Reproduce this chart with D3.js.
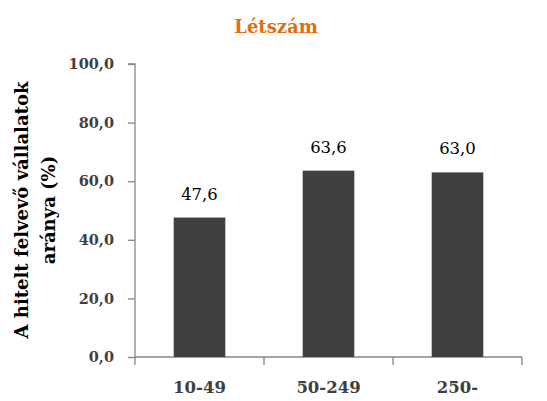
<!DOCTYPE html>
<html><head><meta charset="utf-8">
<script src="https://cdn.jsdelivr.net/npm/d3@7"></script>
<style>body{margin:0;background:#fff}svg{display:block}</style>
</head><body>
<svg id="c" width="547" height="401"></svg>
<script>
const categories = ["10-49", "50-249", "250-"];
const values = [47.6, 63.6, 63.0];
const yTicks = [0, 20, 40, 60, 80, 100];
const title = "Létszám";
const yTitle = ["A hitelt felvevő vállalatok", "aránya (%)"];

const svg = d3.select("#c");
const m = {left: 135, right: 25, top: 64, bottom: 44};
const W = 547, H = 401;
const x = d3.scaleBand().domain(categories).range([m.left, W - m.right]).paddingInner(0.6).paddingOuter(0.3);
const y = d3.scaleLinear().domain([0, 100]).range([H - m.bottom, m.top]);
const fmt = v => d3.format(".1f")(v).replace(".", ",");
const serif = "'DejaVu Serif', serif";

svg.append("text").attr("x", 276).attr("y", 33).attr("text-anchor", "middle")
  .attr("font-family", serif).attr("font-weight", "bold").attr("font-size", 18)
  .attr("fill", "#E46C0A").text(title);

// y axis
const ya = svg.append("g").attr("transform", `translate(${m.left},0)`)
  .call(d3.axisLeft(y).tickValues(yTicks).tickFormat(fmt).tickSize(7).tickPadding(14));
ya.select(".domain").attr("stroke", "#868686").attr("stroke-width", 1.3).attr("d", `M-7,${y(100)}H0V${y(0)}`);
ya.selectAll(".tick line").attr("stroke", "#868686").attr("stroke-width", 1.3);
ya.selectAll(".tick text").attr("font-family", serif).attr("font-weight", "bold")
  .attr("font-size", 14.5).attr("fill", "#404040");

// x axis
const xa = svg.append("g").attr("transform", `translate(0,${y(0)})`)
  .call(d3.axisBottom(x).tickSize(0).tickPadding(24));
xa.select(".domain").attr("stroke", "#868686").attr("stroke-width", 1.3).attr("d", `M${m.left},0H${W - m.right}`);
xa.selectAll(".tick text").attr("font-family", serif).attr("font-weight", "bold")
  .attr("font-size", 16.5).attr("fill", "#404040");
const bounds = d3.range(categories.length + 1).map(i => m.left + i * (W - m.left - m.right) / categories.length);
svg.append("g").selectAll("line").data(bounds).join("line")
  .attr("x1", d => d).attr("x2", d => d).attr("y1", y(0)).attr("y2", y(0) + 8)
  .attr("stroke", "#868686").attr("stroke-width", 1.3);

// bars
svg.append("g").selectAll("rect").data(values).join("rect")
  .attr("x", (d, i) => x(categories[i])).attr("width", x.bandwidth())
  .attr("y", d => y(d)).attr("height", d => y(0) - y(d)).attr("fill", "#404040");

svg.append("g").selectAll("text").data(values).join("text")
  .attr("x", (d, i) => x(categories[i]) + x.bandwidth() / 2).attr("y", d => y(d) - 18)
  .attr("text-anchor", "middle").attr("font-family", serif).attr("font-size", 16.5)
  .attr("fill", "#000").text(fmt);

// y title
const yt = svg.append("text").attr("transform", "translate(0,210) rotate(-90)")
  .attr("text-anchor", "middle").attr("font-family", serif).attr("font-weight", "bold")
  .attr("font-size", 18).attr("fill", "#000");
yt.selectAll("tspan").data(yTitle).join("tspan").attr("x", 0).attr("y", (d, i) => 28 + i * 27).text(d => d);
</script>
</body></html>
